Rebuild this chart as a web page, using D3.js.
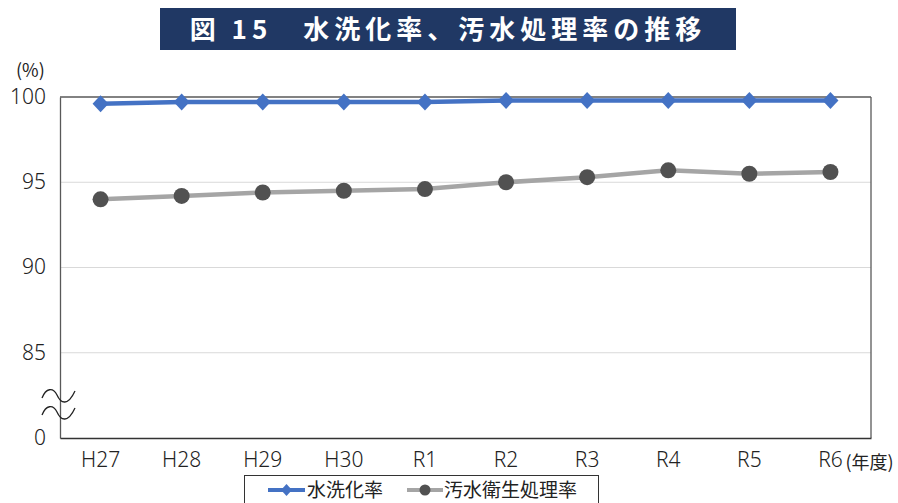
<!DOCTYPE html>
<html><head><meta charset="utf-8">
<script src="https://cdn.jsdelivr.net/npm/d3@7"></script>
<style>
body{margin:0;background:#fff;}
text{font-family:"Noto Sans CJK JP","Noto Sans",sans-serif;}
.tick text{font-family:"Noto Sans","DejaVu Sans",sans-serif;font-weight:300;}
</style></head>
<body><svg id="c" width="898" height="503"></svg>
<script>
const categories = ["H27","H28","H29","H30","R1","R2","R3","R4","R5","R6"];
const suisenka = [99.6,99.7,99.7,99.7,99.7,99.8,99.8,99.8,99.8,99.8];
const osui = [94.0,94.2,94.4,94.5,94.6,95.0,95.3,95.7,95.5,95.6];
const yTicks = [80,85,90,95,100];
const yTickLabels = ["0","85","90","95","100"];
const seriesNames = ["水洗化率","汚水衛生処理率"];
const title = "図 15　水洗化率、汚水処理率の推移";

const svg = d3.select("#c");
const L=60,R=871,T=97,B=438;
const x = d3.scaleBand().domain(categories).range([L,R]);
const y = d3.scaleLinear().domain([80,100]).range([B,T]);

// title
svg.append("rect").attr("x",160).attr("y",8).attr("width",576).attr("height",42).attr("fill","#203864");
svg.append("text").attr("x",448).attr("y",39).attr("text-anchor","middle").attr("fill","#fff")
  .style("font-size","26px").attr("font-weight","bold").attr("letter-spacing",5).text(title);

// grid
svg.append("g").selectAll("line").data(yTicks.filter(d=>d>80 && d<100)).join("line")
  .attr("x1",L).attr("x2",R).attr("y1",d=>y(d)).attr("y2",d=>y(d)).attr("stroke","#d9d9d9").attr("stroke-width",1);
// box
svg.append("line").attr("x1",L).attr("x2",R).attr("y1",T).attr("y2",T).attr("stroke","#595959").attr("stroke-width",1.3);
svg.append("line").attr("x1",R).attr("x2",R).attr("y1",T).attr("y2",B).attr("stroke","#595959").attr("stroke-width",1.3);

// y axis
const yAxis = d3.axisLeft(y).tickValues(yTicks).tickSize(0).tickPadding(14).tickFormat((d,i)=>yTickLabels[i]);
const gy = svg.append("g").attr("transform",`translate(${L},0)`).call(yAxis);
gy.select(".domain").attr("stroke","#595959").attr("stroke-width",1.3);
gy.selectAll("text").style("font-size","21px").attr("fill","#222").attr("dy","0.3em");

// x axis
const xAxis = d3.axisBottom(x).tickSize(0).tickPadding(14);
const gx = svg.append("g").attr("transform",`translate(0,${B})`).call(xAxis);
gx.select(".domain").attr("stroke","#333").attr("stroke-width",1.5);
gx.selectAll("text").style("font-size","21px").attr("fill","#222");

svg.append("text").attr("x",16).attr("y",77).style("font-size","18px").attr("fill","#222").text("(%)");
svg.append("text").attr("x",x("R6")+x.bandwidth()/2+15).attr("y",469).style("font-size","18px").attr("fill","#222").text("(年度)");

// break marks
[0,17].forEach(dy=>{
  svg.append("path").attr("d",`M42,${398+dy} C46,${388+dy} 53,${387+dy} 57,${395+dy} C61,${404+dy} 68,${406+dy} 75,${391+dy}`)
    .attr("fill","none").attr("stroke","#222").attr("stroke-width",1.3);
});

// lines
const cx = d=>x(d)+x.bandwidth()/2;
const line = d3.line().x((d,i)=>cx(categories[i])).y(d=>y(d));
svg.append("path").datum(osui).attr("d",line).attr("fill","none").attr("stroke","#a5a5a5").attr("stroke-width",4.5).attr("stroke-linejoin","round");
svg.append("g").selectAll("circle").data(osui).join("circle")
  .attr("cx",(d,i)=>cx(categories[i])).attr("cy",d=>y(d)).attr("r",8).attr("fill","#515151");
svg.append("path").datum(suisenka).attr("d",line).attr("fill","none").attr("stroke","#4472c4").attr("stroke-width",4.5).attr("stroke-linejoin","round");
const dia = "M0,-8.5L8,0L0,8.5L-8,0Z";
svg.append("g").selectAll("path").data(suisenka).join("path")
  .attr("transform",(d,i)=>`translate(${cx(categories[i])},${y(d)})`).attr("d",dia).attr("fill","#4472c4");

// legend
svg.append("rect").attr("x",244.5).attr("y",475.5).attr("width",354).attr("height",40).attr("fill","#fff").attr("stroke","#333").attr("stroke-width",1);
const ly=490;
svg.append("line").attr("x1",268).attr("x2",305).attr("y1",ly).attr("y2",ly).attr("stroke","#4472c4").attr("stroke-width",4);
svg.append("path").attr("transform",`translate(286.5,${ly})`).attr("d","M0,-6L5.5,0L0,6L-5.5,0Z").attr("fill","#4472c4");
svg.append("text").attr("x",307).attr("y",ly+7).style("font-size","19px").attr("fill","#222").text(seriesNames[0]);
svg.append("line").attr("x1",407).attr("x2",443).attr("y1",ly).attr("y2",ly).attr("stroke","#a5a5a5").attr("stroke-width",4);
svg.append("circle").attr("cx",425).attr("cy",ly).attr("r",5.5).attr("fill","#515151");
svg.append("text").attr("x",444).attr("y",ly+7).style("font-size","19px").attr("fill","#222").text(seriesNames[1]);
</script></body></html>
